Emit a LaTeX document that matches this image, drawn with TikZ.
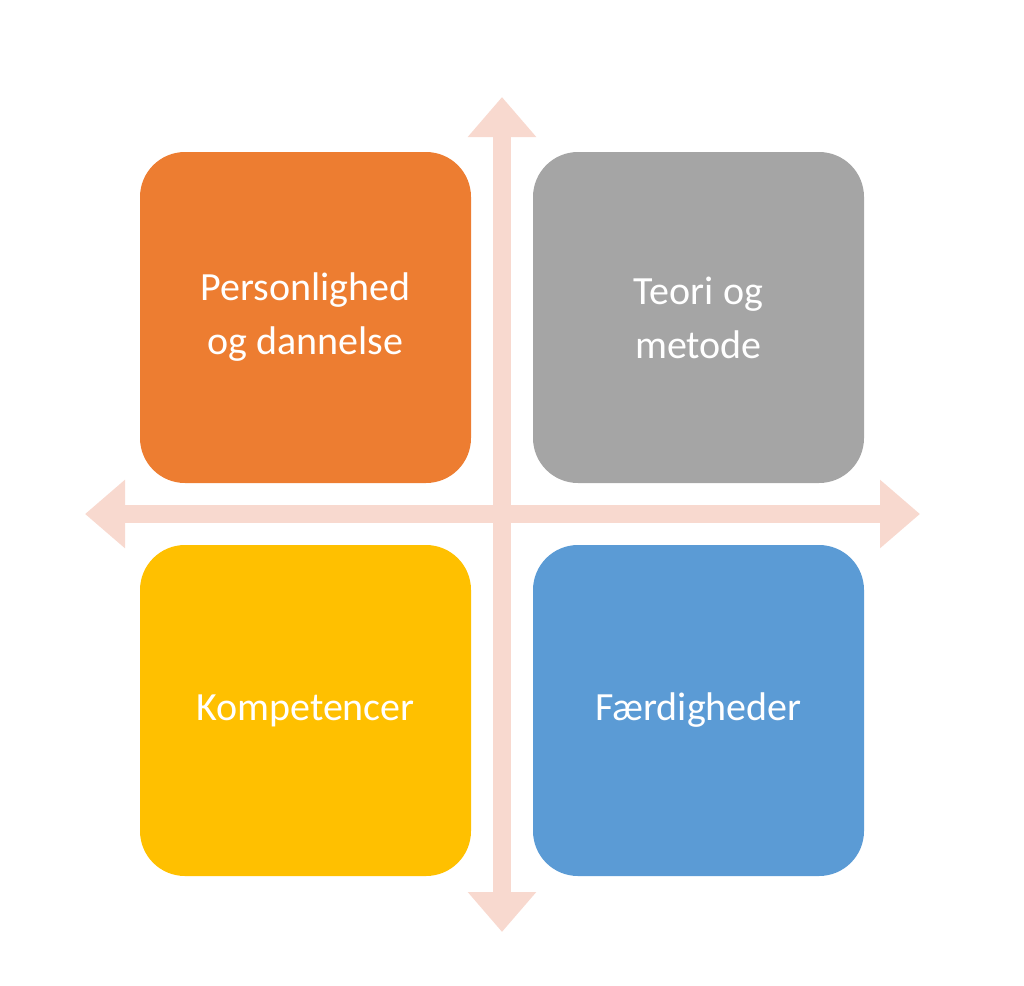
\documentclass[tikz,border=0pt]{standalone}
\usepackage{fontspec}
\setmainfont{Carlito}
\usetikzlibrary{arrows.meta}
\definecolor{axiscol}{HTML}{F8D9CF}
\definecolor{orangebox}{HTML}{ED7D31}
\definecolor{graybox}{HTML}{A5A5A5}
\definecolor{yellowbox}{HTML}{FFC000}
\definecolor{bluebox}{HTML}{5B9BD5}
\begin{document}
\begin{tikzpicture}[
    x=1pt, y=-1pt,
    quadbox/.style={rounded corners=45pt, minimum width=331pt, minimum height=331pt,
        inner sep=0pt, text=white, align=center, font=\fontsize{40}{54}\selectfont},
    axisline/.style={draw=axiscol, line width=18pt,
        {Triangle[width=66pt,length=40pt]}-{Triangle[width=66pt,length=40pt]}}
]
\useasboundingbox (0,0) rectangle (1024,985);
\coordinate (top) at (502, 97);
\coordinate (bottom) at (502, 932);
\coordinate (left) at (85, 514);
\coordinate (right) at (920, 514);
\draw[axisline] (top) -- (bottom);
\draw[axisline] (left) -- (right);

\node[quadbox, fill=orangebox](pers) at (305.5, 317.5) {Personlighed\\og dannelse};
\node[quadbox, fill=graybox](teori) at (698.5, 317.5) {Teori og\\metode};
\node[quadbox, fill=yellowbox](komp) at (305.5, 710.5) {Kompetencer};
\node[quadbox, fill=bluebox](faerd) at (698.5, 710.5) {Færdigheder};
\end{tikzpicture}
\end{document}
